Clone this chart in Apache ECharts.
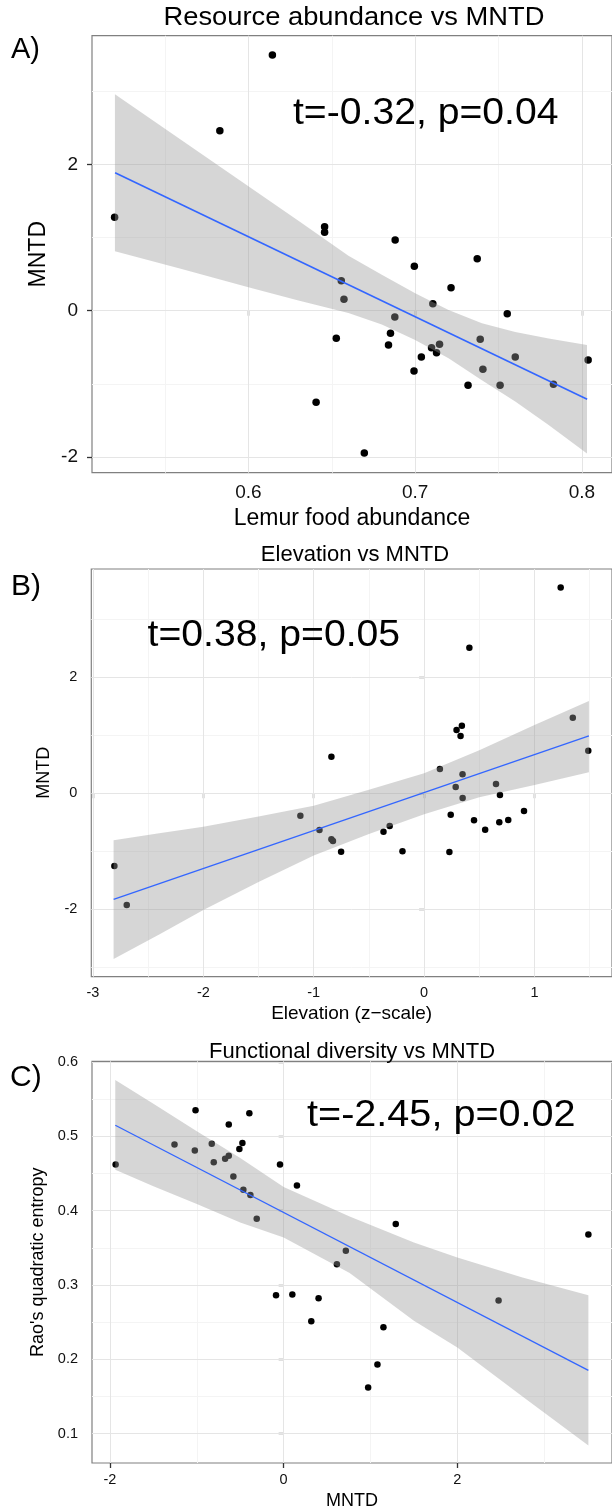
<!DOCTYPE html>
<html>
<head>
<meta charset="utf-8">
<script src="https://cdn.jsdelivr.net/npm/echarts@6/dist/echarts.min.js"></script>
<style>
  body { margin: 0; background: #fff; }
  #chart { width: 612px; height: 1511px; }
</style>
</head>
<body>
<div id="chart"></div>
<script>
// ---- panel A: lemur food abundance vs MNTD ----
var aFood = [0.5198, 0.5829, 0.6144, 0.6457, 0.6457, 0.6557, 0.6573, 0.6527, 0.6406, 0.688,
             0.6995, 0.7372, 0.7215, 0.7106, 0.6878, 0.7552, 0.6852, 0.684, 0.739, 0.7146,
             0.7098, 0.7128, 0.7037, 0.76, 0.8037, 0.7406, 0.6993, 0.7317, 0.7509, 0.7829, 0.6695];
var aMntd = [1.276, 2.459, 3.493, 1.148, 1.071, 0.41, 0.156, -0.377, -1.251, 0.966,
             0.607, 0.711, 0.314, 0.096, -0.086, -0.041, -0.309, -0.469, -0.391, -0.459,
             -0.505, -0.574, -0.633, -0.633, -0.674, -0.801, -0.824, -1.02, -1.02, -1.006, -1.944];
var aBandX = [0.520, 0.56, 0.60, 0.63, 0.66, 0.68, 0.70, 0.72, 0.74, 0.76, 0.78, 0.803];
var aBandUp = [2.956, 2.33, 1.70, 1.23, 0.75, 0.49, 0.24, 0.01, -0.17, -0.29, -0.38, -0.47];
var aBandLo = [0.811, 0.57, 0.32, 0.14, -0.03, -0.19, -0.40, -0.65, -0.95, -1.24, -1.56, -1.95];
var aFitX = [0.5201, 0.8031];
var aFitY = [1.885, -1.21];
var aXTicks = [0.6, 0.7, 0.8], aXMinor = [0.55, 0.65, 0.75];
var aYTicks = [-2, 0, 2], aYMinor = [-1, 1, 3];

// ---- panel B: elevation vs MNTD ----
var bElev = [-2.806, -2.694, -1.121, -0.948, -0.84, -0.84, -0.826, -0.752, 1.237, 0.41,
             1.347, 0.342, 0.294, 0.33, 1.487, 0.143, 0.348, 0.286, 0.651, 0.687,
             0.349, 0.241, 0.905, 0.452, 0.762, 0.681, 0.553, -0.312, -0.368, -0.196, 0.229];
var bMntd = [-1.253, -1.924, -0.387, -0.633, 0.629, -0.794, -0.823, -1.007, 3.54, 2.504,
             1.30, 1.162, 1.088, 0.985, 0.732, 0.416, 0.325, 0.107, 0.158, -0.031,
             -0.083, -0.37, -0.306, -0.467, -0.461, -0.501, -0.628, -0.565, -0.663, -1.0, -1.012];
var bBandX = [-2.813, -2.4, -2.0, -1.5, -1.0, -0.5, 0.0, 0.5, 1.0, 1.493];
var bBandUp = [-0.81, -0.69, -0.576, -0.40, -0.215, 0.06, 0.342, 0.74, 1.174, 1.587];
var bBandLo = [-2.854, -2.43, -2.01, -1.53, -1.07, -0.70, -0.363, -0.07, 0.141, 0.36];
var bFitX = [-2.813, 1.493];
var bFitY = [-1.826, 0.985];
var bXTicks = [-3, -2, -1, 0, 1], bXMinor = [-2.5, -1.5, -0.5, 0.5, 1.5];
var bYTicks = [-2, 0, 2], bYMinor = [-3, -1, 1, 3];

// ---- panel C: MNTD vs Rao's quadratic entropy ----
var cMntd = [-1.935, -1.257, -1.015, -1.023, -0.828, -0.805, -0.674, -0.632, -0.632, -0.579,
             -0.51, -0.475, -0.395, -0.464, -0.383, -0.31, -0.042, 0.153, 0.716, 0.613,
             -0.088, 0.10, 0.402, 0.318, 1.291, 3.509, 2.475, 1.149, 1.08, 0.973];
var cRao = [0.462, 0.489, 0.535, 0.481, 0.490, 0.465, 0.470, 0.474, 0.516, 0.446,
            0.483, 0.491, 0.531, 0.428, 0.421, 0.389, 0.462, 0.434, 0.346, 0.328,
            0.286, 0.287, 0.282, 0.251, 0.382, 0.368, 0.279, 0.243, 0.193, 0.162];
var cBandX = [-1.939, -1.5, -1.0, -0.5, 0.0, 0.76, 1.5, 2.0, 2.75, 3.509];
var cBandUp = [0.576, 0.544, 0.507, 0.471, 0.432, 0.392, 0.357, 0.337, 0.31, 0.286];
var cBandLo = [0.455, 0.433, 0.409, 0.384, 0.364, 0.316, 0.252, 0.216, 0.15, 0.084];
var cFitX = [-1.939, 3.509];
var cFitY = [0.515, 0.185];
var cXTicks = [-2, 0, 2], cXMinor = [-1, 1, 3];
var cYTicks = [0.1, 0.2, 0.3, 0.4, 0.5, 0.6], cYMinor = [0.15, 0.25, 0.35, 0.45, 0.55];

var FONT = "'Liberation Sans', Arial, sans-serif";
var mychart = echarts.init(document.getElementById('chart'));

function zip(xs, ys) {
    return xs.map(function (x, i) { return [x, ys[i]]; });
}

function gridLines(xMajor, xMinor, yMajor, yMinor) {
    var d = [];
    xMinor.forEach(function (v) { d.push({xAxis: v, lineStyle: {color: '#f4f4f4', width: 1, type: 'solid'}}); });
    yMinor.forEach(function (v) { d.push({yAxis: v, lineStyle: {color: '#f4f4f4', width: 1, type: 'solid'}}); });
    xMajor.forEach(function (v) { d.push({xAxis: v, lineStyle: {color: '#e5e5e5', width: 1, type: 'solid'}}); });
    yMajor.forEach(function (v) { d.push({yAxis: v, lineStyle: {color: '#e5e5e5', width: 1, type: 'solid'}}); });
    return d;
}

function axis(idx, min, max, ticks, fs, margin, name, nameFs, nameGap) {
    return {
        type: 'value', gridIndex: idx, min: min, max: max,
        axisLine: {show: false},
        splitLine: {show: false},
        axisTick: {show: true, length: 5, customValues: ticks, lineStyle: {color: '#333', width: 1.3}},
        axisLabel: {customValues: ticks, fontSize: fs, color: '#111', fontFamily: FONT, margin: margin},
        name: name, nameLocation: 'middle', nameGap: nameGap,
        nameTextStyle: {fontSize: nameFs, color: '#000', fontFamily: FONT}
    };
}

function panelSeries(idx, xs, ys, dot, bx, up, lo, fx, fy, lw, ticks) {
    return [
        {
            type: 'scatter', xAxisIndex: idx, yAxisIndex: idx, z: 2,
            symbol: 'circle', symbolSize: dot,
            itemStyle: {color: '#000', opacity: 1},
            data: zip(xs, ys),
            markLine: {
                z: 1, silent: true, symbol: ['none', 'none'], animation: false,
                label: {show: false},
                emphasis: {disabled: true},
                data: gridLines(ticks[0], ticks[1], ticks[2], ticks[3])
            }
        },
        {
            // confidence band of the smoother
            type: 'custom', xAxisIndex: idx, yAxisIndex: idx, z: 3, silent: true,
            data: [[bx[0], up[0]]],
            renderItem: function (params, api) {
                var pts = [];
                for (var i = 0; i < bx.length; i++) pts.push(api.coord([bx[i], up[i]]));
                for (var j = bx.length - 1; j >= 0; j--) pts.push(api.coord([bx[j], lo[j]]));
                return {type: 'polygon', shape: {points: pts}, style: {fill: 'rgba(153,153,153,0.4)'}};
            }
        },
        {
            type: 'line', xAxisIndex: idx, yAxisIndex: idx, z: 4,
            showSymbol: false, silent: true,
            lineStyle: {color: '#3366FF', width: lw},
            data: zip(fx, fy)
        }
    ];
}

function txt(x, y, s, size, align, sx) {
    return {
        type: 'text', x: x, y: y, z: 100, silent: true, scaleX: sx || 1,
        style: {text: s, fontSize: size, fontFamily: FONT, fill: '#000', align: align || 'left', verticalAlign: 'middle'}
    };
}

var option = {
    animation: false,
    backgroundColor: '#fff',
    grid: [
        {left: 92, top: 35.7, width: 523.7, height: 437, show: true, borderColor: '#808080', borderWidth: 1.2, backgroundColor: '#fff'},
        {left: 91.3, top: 569, width: 528.8, height: 407.7, show: true, borderColor: '#808080', borderWidth: 1.2, backgroundColor: '#fff'},
        {left: 92, top: 1061.3, width: 521, height: 402.7, show: true, borderColor: '#808080', borderWidth: 1.2, backgroundColor: '#fff'}
    ],
    xAxis: [
        axis(0, 0.50625, 0.818, aXTicks, 19, 11, 'Lemur food abundance', 23, 34),
        axis(1, -3.015, 1.702, bXTicks, 14.5, 9, 'Elevation (z\u2212scale)', 19, 27.5),
        axis(2, -2.207, 3.781, cXTicks, 14.5, 9, 'MNTD', 18, 29)
    ],
    yAxis: [
        axis(0, -2.213, 3.757, aYTicks, 19, 14, 'MNTD', 23, 38),
        axis(1, -3.158, 3.859, bYTicks, 14.5, 14, 'MNTD', 18, 33),
        axis(2, 0.0604, 0.601, cYTicks, 14.5, 14, "Rao's quadratic entropy", 18, 36)
    ],
    series: [].concat(
        panelSeries(0, aFood, aMntd, 7.5, aBandX, aBandUp, aBandLo, aFitX, aFitY, 1.6,
            [aXTicks, aXMinor, aYTicks, aYMinor]),
        panelSeries(1, bElev, bMntd, 6.5, bBandX, bBandUp, bBandLo, bFitX, bFitY, 1.3,
            [bXTicks, bXMinor, bYTicks, bYMinor]),
        panelSeries(2, cMntd, cRao, 6.5, cBandX, cBandUp, cBandLo, cFitX, cFitY, 1.3,
            [cXTicks, cXMinor, cYTicks, cYMinor])
    ),
    graphic: [
        txt(354, 18.3, 'Resource abundance vs MNTD', 26, 'center', 1.05),
        txt(355, 555, 'Elevation vs MNTD', 22, 'center'),
        txt(352, 1052, 'Functional diversity vs MNTD', 22, 'center'),
        txt(11, 50, 'A)', 29),
        txt(11, 587, 'B)', 30),
        txt(10, 1078, 'C)', 30),
        txt(293, 114, 't=-0.32, p=0.04', 36, 'left', 1.087),
        txt(147.5, 636, 't=0.38, p=0.05', 36, 'left', 1.088),
        txt(307, 1116, 't=-2.45, p=0.02', 36, 'left', 1.1)
    ]
};
mychart.setOption(option);
</script>
</body>
</html>
